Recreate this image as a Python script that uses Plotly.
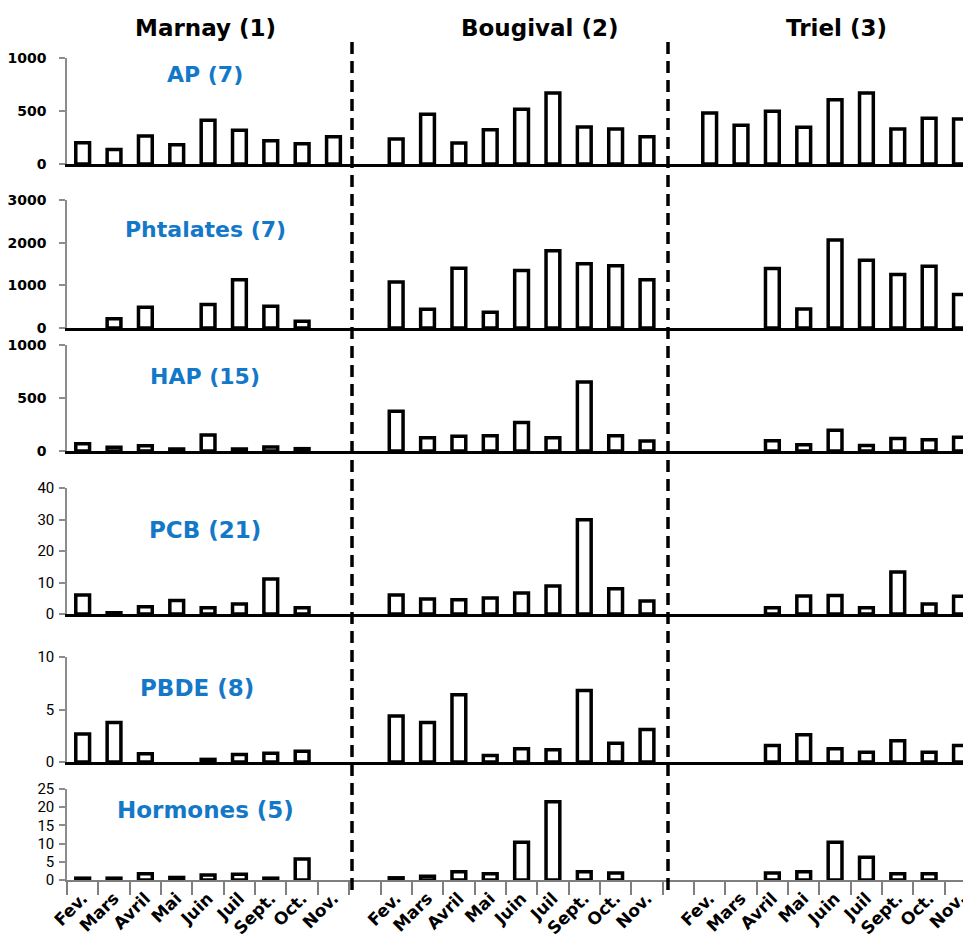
import plotly.graph_objects as go

months = ["Fev.", "Mars", "Avril", "Mai", "Juin", "Juil", "Sept.", "Oct.", "Nov."]
sites = ["Marnay (1)", "Bougival (2)", "Triel (3)"]
groups = ["AP (7)", "Phtalates (7)", "HAP (15)", "PCB (21)", "PBDE (8)", "Hormones (5)"]

ap_marnay = [200, 137, 265, 181, 412, 319, 219, 190, 256]
ap_bougival = [237, 469, 197, 322, 516, 669, 350, 331, 256]
ap_triel = [481, 366, 497, 347, 606, 669, 331, 431, 425]

pht_marnay = [None, 219, 486, None, 548, 1128, 509, 157, None]
pht_bougival = [1081, 439, 1402, 368, 1347, 1809, 1504, 1457, 1128]
pht_triel = [None, None, 1394, 446, 2060, 1590, 1253, 1449, 783]

hap_marnay = [69, 35, 50, 19, 151, 19, 38, 22, None]
hap_bougival = [374, 126, 138, 145, 270, 126, 651, 145, 94]
hap_triel = [None, None, 97, 60, 195, 53, 119, 107, 129]

pcb_marnay = [6.0, 0.4, 2.3, 4.3, 2.0, 3.2, 11.1, 2.0, None]
pcb_bougival = [6.0, 4.8, 4.5, 5.1, 6.7, 8.9, 29.9, 8.0, 4.1]
pcb_triel = [None, None, 2.0, 5.7, 5.9, 2.0, 13.3, 3.2, 5.6]

pbde_marnay = [2.66, 3.75, 0.78, None, 0.25, 0.72, 0.84, 1.03, None]
pbde_bougival = [4.38, 3.75, 6.4, 0.62, 1.25, 1.16, 6.8, 1.78, 3.1]
pbde_triel = [None, None, 1.56, 2.6, 1.25, 0.94, 2.03, 0.94, 1.56]

horm_marnay = [0.5, 0.5, 1.7, 0.7, 1.35, 1.6, 0.5, 5.8, None]
horm_bougival = [0.6, 1.0, 2.3, 1.7, 10.4, 21.5, 2.3, 1.9, None]
horm_triel = [None, None, 1.9, 2.3, 10.4, 6.25, 1.7, 1.7, None]

ap_ticks = [0, 500, 1000]
pht_ticks = [0, 1000, 2000, 3000]
hap_ticks = [0, 500, 1000]
pcb_ticks = [0, 10, 20, 30, 40]
pbde_ticks = [0, 5, 10]
horm_ticks = [0, 5, 10, 15, 20, 25]

rows = [
    (ap_marnay, ap_bougival, ap_triel, ap_ticks),
    (pht_marnay, pht_bougival, pht_triel, pht_ticks),
    (hap_marnay, hap_bougival, hap_triel, hap_ticks),
    (pcb_marnay, pcb_bougival, pcb_triel, pcb_ticks),
    (pbde_marnay, pbde_bougival, pbde_triel, pbde_ticks),
    (horm_marnay, horm_bougival, horm_triel, horm_ticks),
]

OFF = 8  # page body margin: positions below are given in window pixels
W, H = 971, 943

# category slots: 9 months per site with one empty separator slot between sites
cats, labels = [], []
for si, s in enumerate(sites):
    for m in months:
        cats.append(s + "|" + m)
        labels.append(m)
    if si < 2:
        cats.append("gap%d" % si)
        labels.append("")


def px(x):
    return (x - OFF) / W


def py(y):
    return 1 - (y - OFF) / H


# window-pixel positions (top, bottom) of each row's plot area
row_px = [(58, 164), (200, 328), (345, 451), (488, 614), (657, 762), (789, 880)]
x_left = 67
slot = 31.35
x_end = -0.5 + (W - (x_left - OFF)) / slot

fig = go.Figure()
layout = dict(
    template="none",
    width=W, height=H, margin=dict(l=0, r=0, t=0, b=0, autoexpand=False),
    paper_bgcolor="white", plot_bgcolor="white", showlegend=False,
)
blue = "#1478C8"
annotations = []
for r, (a, b, c, ticks) in enumerate(rows):
    k = r + 1
    ys = list(a) + [None] + list(b) + [None] + list(c)
    fig.add_trace(go.Bar(
        x=cats, y=ys, width=0.44,
        marker=dict(color="white", line=dict(color="black", width=3.5)),
        xaxis="x%d" % k, yaxis="y%d" % k, hoverinfo="skip",
    ))
    top, bot = row_px[r]
    last = (r == 5)
    small = r >= 3
    xa = dict(
        domain=[px(x_left), 1], anchor="y%d" % k, type="category",
        categoryorder="array", categoryarray=cats,
        range=[-0.5, x_end], showgrid=False, zeroline=False,
        showline=True, automargin=False,
        linecolor="#7f7f7f" if last else "black",
        linewidth=1.5 if last else 3,
        fixedrange=True,
    )
    if last:
        xa.update(
            tickmode="array", tickvals=cats, ticktext=labels,
            tickson="boundaries", ticks="outside", ticklen=13,
            tickcolor="#7f7f7f", tickwidth=1.5, tickangle=-45,
            showticklabels=True,
            tickfont=dict(family="DejaVu Sans", size=17, color="black", weight="bold"),
        )
    else:
        xa.update(showticklabels=False, ticks="")
    ya = dict(
        domain=[py(bot), py(top)], anchor="x%d" % k,
        range=[0, ticks[-1]], tickmode="array", tickvals=ticks,
        showgrid=False, zeroline=False, showline=True, automargin=False,
        linecolor="#8c8c8c", linewidth=1.5, ticks="outside", ticklen=6,
        tickcolor="#8c8c8c", tickwidth=1.5,
        ticklabelstandoff=2 if small else 10,
        tickfont=(dict(family="Liberation Sans Narrow, Roboto", size=15, color="black")
                  if small else
                  dict(family="DejaVu Sans", size=14, color="black", weight="bold")),
        fixedrange=True,
    )
    key = "" if k == 1 else str(k)
    layout["xaxis" + key] = xa
    layout["yaxis" + key] = ya

# group subtitles
sub_pos = [(205, 75), (205, 230), (205, 377), (205, 530), (197, 688), (205, 810)]
for r, g in enumerate(groups):
    x, y = sub_pos[r]
    f = dict(family="DejaVu Sans", size=22 if r < 3 else 23, color=blue, weight="bold")
    annotations.append(dict(text=g, x=px(x), y=py(y), xref="paper", yref="paper",
                            showarrow=False, xanchor="center", yanchor="middle", font=f))

# site titles
title_x = [205, 540, 836]
for s, x in zip(sites, title_x):
    annotations.append(dict(text=s, x=px(x), y=py(28), xref="paper", yref="paper",
                            showarrow=False, xanchor="center", yanchor="middle",
                            font=dict(family="DejaVu Sans", size=23, color="black", weight="bold")))

shapes = []
for xp in [352, 668]:
    shapes.append(dict(type="line", xref="paper", yref="paper",
                       x0=px(xp), x1=px(xp), y0=py(42), y1=py(895),
                       line=dict(color="black", width=3.5, dash="12px,7px")))

layout["annotations"] = annotations
layout["shapes"] = shapes
fig.update_layout(**layout)
fig.write_html("out.html")
